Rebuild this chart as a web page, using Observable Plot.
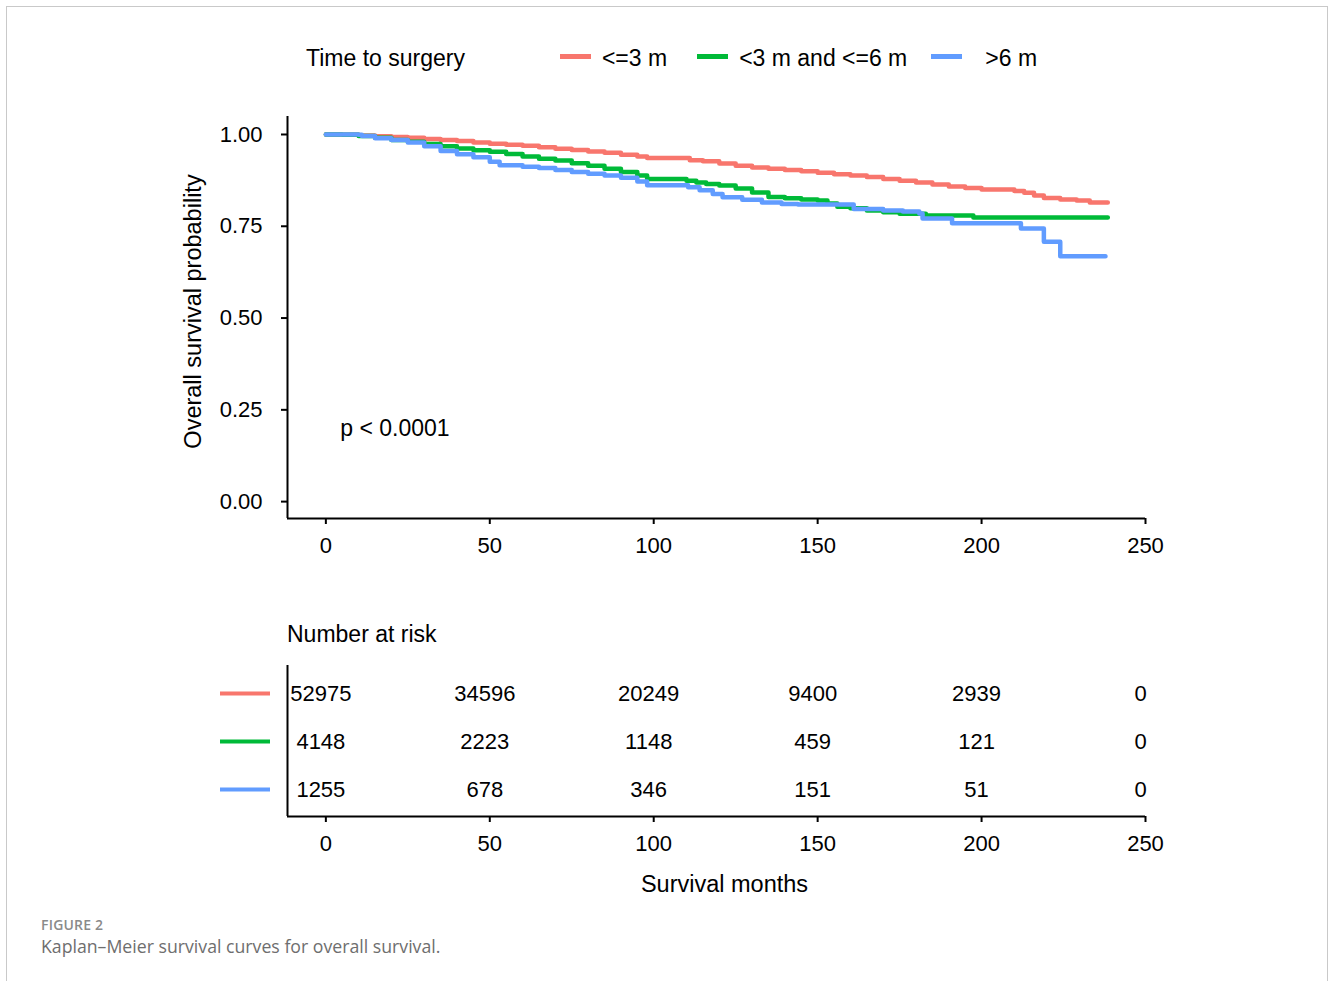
<!DOCTYPE html>
<html>
<head>
<meta charset="utf-8">
<script src="https://cdn.jsdelivr.net/npm/d3@7"></script>
<script src="https://cdn.jsdelivr.net/npm/@observablehq/plot@0.6"></script>
<style>
  html, body { margin: 0; padding: 0; background: #fff; }
  body { width: 1330px; height: 981px; position: relative; overflow: hidden; font-family: "Liberation Sans", Arial, sans-serif; color: #000; }
  #frame { position: absolute; left: 6px; top: 6px; width: 1322px; height: 1100px; border: 1.5px solid #c9c9c9; box-sizing: border-box; }
  .abs { position: absolute; }
  #legend { position: absolute; left: 306px; top: 46px; height: 24px; display: flex; align-items: center; font-size: 23px; line-height: 23px; white-space: nowrap; }
  #legend .title { margin-right: 95px; }
  #legend .item { display: flex; align-items: center; }
  #legend .sw { width: 31px; height: 5px; margin-right: 11px; position: relative; top: -2px; }
  #risktitle { left: 287px; top: 623px; font-size: 23px; line-height: 23px; }
  #cap1 { left: 41px; top: 915px; font-family: "Open Sans", Lato, sans-serif; font-size: 14px; font-weight: 600; color: #8a8a8a; letter-spacing: 0.2px; }
  #cap2 { left: 41px; top: 934px; font-family: "Open Sans", Lato, sans-serif; font-size: 17.7px; color: #6e6e6e; }
  svg { position: absolute; left: 0; }
</style>
</head>
<body>
<div id="frame"></div>
<div id="legend"></div>
<div id="risktitle" class="abs">Number at risk</div>
<div id="cap1" class="abs">FIGURE 2</div>
<div id="cap2" class="abs">Kaplan–Meier survival curves for overall survival.</div>
<script>
// ---------- data ----------
const groups = ["<=3 m", "<3 m and <=6 m", ">6 m"];
const colors = ["#F8766D", "#00BA38", "#619CFF"];
const legendTitle = "Time to surgery";

const redTime = [0, 5, 10, 15, 20, 25, 30, 35, 40, 45, 50, 55, 60, 65, 70, 75, 80, 85, 90, 95, 98, 111, 115, 120, 125, 130, 135, 140, 145, 150, 155, 160, 165, 170, 175, 180, 185, 190, 195, 200, 210, 213, 216, 219, 224, 229, 233, 238.5];
const redSurv = [1.0, 0.999, 0.997, 0.995, 0.993, 0.991, 0.988, 0.985, 0.982, 0.978, 0.975, 0.972, 0.969, 0.965, 0.961, 0.958, 0.954, 0.950, 0.945, 0.940, 0.936, 0.930, 0.927, 0.921, 0.915, 0.910, 0.907, 0.903, 0.900, 0.896, 0.892, 0.888, 0.884, 0.879, 0.874, 0.869, 0.864, 0.858, 0.854, 0.850, 0.846, 0.841, 0.834, 0.827, 0.823, 0.820, 0.815, 0.815];

const greenTime = [0, 5, 10, 15, 20, 25, 30, 35, 40, 45, 50, 55, 60, 65, 70, 75, 80, 85, 90, 95, 98, 110, 113, 116, 120, 125, 130, 135, 140, 145, 150, 153, 156, 160, 165, 170, 175, 183, 197.5, 238.5];
const greenSurv = [1.0, 0.999, 0.996, 0.991, 0.985, 0.980, 0.974, 0.968, 0.962, 0.957, 0.953, 0.947, 0.940, 0.934, 0.929, 0.922, 0.915, 0.907, 0.898, 0.888, 0.879, 0.874, 0.869, 0.865, 0.861, 0.853, 0.842, 0.830, 0.826, 0.823, 0.820, 0.812, 0.803, 0.799, 0.793, 0.788, 0.784, 0.779, 0.774, 0.774];

const blueTime = [0, 10, 11, 15, 20, 25, 30, 35, 40, 45, 50, 53, 60, 65, 70, 75, 80, 85, 90, 95, 98, 110.5, 114, 118, 121, 127, 133, 139, 144, 161, 170, 176, 181, 182, 191, 212, 219, 224, 237.8];
const blueSurv = [1.0, 0.999, 0.996, 0.990, 0.985, 0.978, 0.968, 0.955, 0.946, 0.938, 0.926, 0.916, 0.912, 0.909, 0.903, 0.898, 0.893, 0.888, 0.882, 0.872, 0.862, 0.856, 0.848, 0.838, 0.829, 0.822, 0.815, 0.811, 0.809, 0.797, 0.793, 0.790, 0.785, 0.771, 0.758, 0.744, 0.708, 0.668, 0.668];

const xTicks = [0, 50, 100, 150, 200, 250];
const yTicks = [0, 0.25, 0.5, 0.75, 1.0];
const xDomain = [-11.7, 250];
const yDomain = [-0.046, 1.049];

const pvalText = "p < 0.0001";
const pvalX = 4.4;
const pvalY = 0.2;

const riskTimes = [0, 50, 100, 150, 200, 250];
const riskRed = [52975, 34596, 20249, 9400, 2939, 0];
const riskGreen = [4148, 2223, 1148, 459, 121, 0];
const riskBlue = [1255, 678, 346, 151, 51, 0];

const yLabel = "Overall survival probability";
const xLabel = "Survival months";

// ---------- tables ----------
const seriesT = [redTime, greenTime, blueTime];
const seriesS = [redSurv, greenSurv, blueSurv];
const surv = [];
groups.forEach((g, i) => seriesT[i].forEach((t, j) => surv.push({group: g, time: t, surv: seriesS[i][j]})));
const riskSeries = [riskRed, riskGreen, riskBlue];
const risk = [];
groups.forEach((g, i) => riskTimes.forEach((t, j) => risk.push({group: g, row: i, time: t, n: riskSeries[i][j]})));

const font = "Liberation Sans, Arial, sans-serif";

// ---------- legend ----------
const legend = document.getElementById("legend");
const lt = document.createElement("span"); lt.className = "title"; lt.textContent = legendTitle; legend.appendChild(lt);
const gaps = [30, 24, 0];
groups.forEach((g, i) => {
  const it = document.createElement("span"); it.className = "item"; it.style.marginRight = gaps[i] + "px";
  const sw = document.createElement("span"); sw.className = "sw"; sw.style.background = colors[i];
  if (i === 2) sw.style.marginRight = "23px";
  const tx = document.createElement("span"); tx.textContent = g;
  it.appendChild(sw); it.appendChild(tx); legend.appendChild(it);
});

// ---------- main plot ----------
const main = Plot.plot({
  width: 1330, height: 478,
  marginLeft: 287, marginRight: 185, marginTop: 26, marginBottom: 50,
  style: {fontFamily: font, fontSize: "22px", color: "#000", background: "transparent"},
  x: {domain: xDomain},
  y: {domain: yDomain},
  color: {domain: groups, range: colors},
  marks: [
    Plot.line(surv, {x: "time", y: "surv", z: "group", stroke: "group", strokeWidth: 4.5, curve: "step-after"}),
    Plot.ruleX([xDomain[0]], {strokeWidth: 2}),
    Plot.ruleY([yDomain[0]], {strokeWidth: 2}),
    Plot.axisX({ticks: xTicks, tickSize: 6, tickPadding: 13, strokeWidth: 2, fontSize: 22, label: null}),
    Plot.axisY({ticks: yTicks, tickFormat: d3.format(".2f"), tickSize: 6, tickPadding: 19, strokeWidth: 2, fontSize: 22, label: null}),
    Plot.text([yLabel], {frameAnchor: "left", textAnchor: "middle", lineAnchor: "middle", rotate: -90, dx: -94, dy: -6, fontSize: 23.5}),
    Plot.text([pvalText], {x: () => pvalX, y: () => pvalY, textAnchor: "start", fontSize: 23})
  ]
});
main.style.top = "90px";
document.body.appendChild(main);

// ---------- risk table ----------
const riskPlot = Plot.plot({
  width: 1330, height: 256,
  marginLeft: 287, marginRight: 185, marginTop: 25, marginBottom: 80,
  style: {fontFamily: font, fontSize: "22px", color: "#000", background: "transparent"},
  x: {domain: xDomain},
  y: {domain: [2.5625, -0.583]},
  marks: [
    Plot.text(risk, {x: "time", y: "row", text: d => String(d.n), fontSize: 22, dx: -5}),
    Plot.ruleX([xDomain[0]], {strokeWidth: 2}),
    Plot.ruleY([2.5625], {strokeWidth: 2}),
    Plot.axisX({ticks: xTicks, tickSize: 6, tickPadding: 13, strokeWidth: 2, fontSize: 22, label: null}),
    ...groups.map((g, i) => Plot.axisY([i], {anchor: "left", tickSize: 50, dx: -17, stroke: colors[i], strokeWidth: 4, tickFormat: () => "", label: null})),
    Plot.text([xLabel], {frameAnchor: "bottom", lineAnchor: "middle", textAnchor: "middle", dy: 68, dx: 8, fontSize: 23.5})
  ]
});
riskPlot.style.top = "640px";
document.body.appendChild(riskPlot);
</script>
</body>
</html>
